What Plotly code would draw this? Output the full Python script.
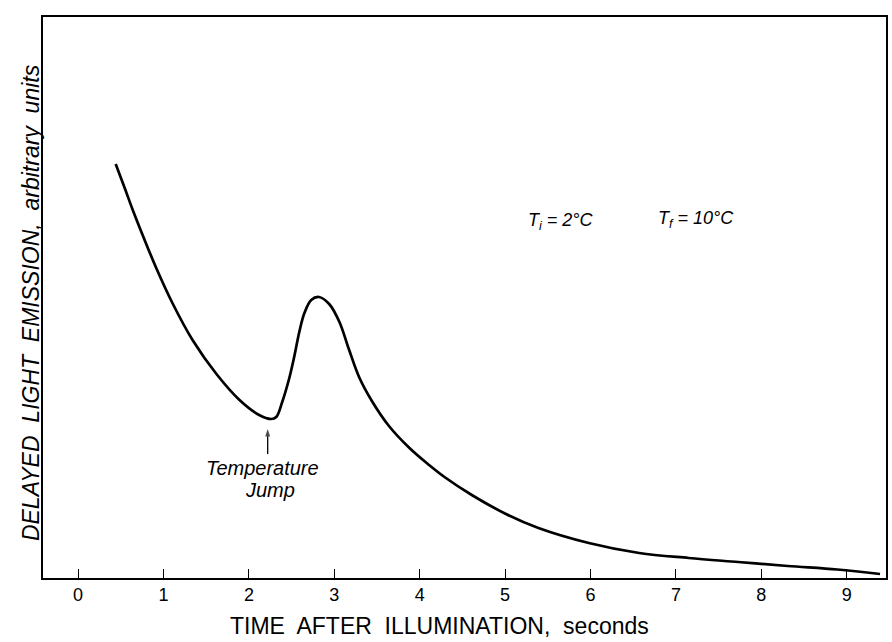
import plotly.graph_objects as go

# Data (time in seconds, emission in arbitrary units)
time_s = [0.44, 0.55, 0.64, 0.76, 0.92, 1.11, 1.34, 1.62, 1.89, 2.12, 2.26, 2.32,
          2.39, 2.47, 2.53, 2.59, 2.65, 2.73, 2.82, 2.94, 3.06, 3.17, 3.29, 3.44,
          3.64, 3.88, 4.11, 4.29, 4.61, 5.01, 5.39, 5.98, 6.57, 7.15, 7.73, 8.31,
          8.89, 9.39]
emission = [414, 389, 368, 342, 309, 274, 238, 204, 178, 163, 159, 161,
            176, 199, 221, 246, 265, 278, 281, 274, 256, 229, 201, 177,
            152, 130, 113, 101, 83, 64, 50, 35, 25, 20, 16, 12,
            8.5, 4]
tick_vals = [0, 1, 2, 3, 4, 5, 6, 7, 8, 9]
tick_text = ["0", "1", "2", "3", "4", "5", "6", "7", "8", "9"]

# "Temperature Jump" marker (time, arrow tail / head heights)
jump_time = [2.22, 2.22]
jump_arrow = [124, 149]

FONT = "Liberation Sans, Arial, sans-serif"

fig = go.Figure()
fig.add_trace(go.Scatter(
    x=time_s, y=emission, mode="lines",
    line=dict(color="black", width=2.7, shape="spline", smoothing=1.0),
    hoverinfo="skip", showlegend=False,
))
fig.add_trace(go.Scatter(
    x=jump_time, y=jump_arrow, mode="lines+markers",
    line=dict(color="black", width=1.3),
    marker=dict(symbol=["line-ew", "arrow"], angleref="previous",
                size=[0.1, 8], color="black",
                line=dict(width=0, color="black")),
    hoverinfo="skip", showlegend=False,
))

annotations = [
    dict(x=2.16, y=110, xref="x", yref="y", text="<i>Temperature</i>",
         showarrow=False, font=dict(family=FONT, size=20, color="black")),
    dict(x=2.25, y=88, xref="x", yref="y", text="<i>Jump</i>",
         showarrow=False, font=dict(family=FONT, size=20, color="black")),
    dict(x=5.65, y=357, xref="x", yref="y",
         text="<i>T<sub>i</sub> = 2°C</i>",
         showarrow=False, font=dict(family=FONT, size=18, color="black")),
    dict(x=7.24, y=359, xref="x", yref="y",
         text="<i>T<sub>f</sub> = 10°C</i>",
         showarrow=False, font=dict(family=FONT, size=18, color="black")),
    # axis titles
    dict(x=0.470, y=-0.085, xref="paper", yref="paper",
         text="TIME  AFTER  ILLUMINATION,  seconds",
         showarrow=False, xanchor="center", yanchor="middle",
         font=dict(family=FONT, size=23, color="black")),
    dict(x=0, y=0.49, xref="paper", yref="paper", xshift=-12,
         text="<i>DELAYED  LIGHT  EMISSION,  arbitrary  units</i>",
         textangle=-90, showarrow=False, xanchor="center", yanchor="middle",
         font=dict(family=FONT, size=23, color="black")),
]

fig.update_layout(
    width=892, height=642,
    margin=dict(l=43, r=4, t=17, b=64),
    paper_bgcolor="white", plot_bgcolor="white",
    annotations=annotations,
    xaxis=dict(
        range=[-0.411, 9.46], tickvals=tick_vals, ticktext=tick_text,
        ticks="inside", ticklen=9, tickwidth=1.4, tickcolor="black",
        showline=True, linecolor="black", linewidth=1.5, mirror=True,
        showgrid=False, zeroline=False,
        tickfont=dict(family=FONT, size=18, color="black"),
    ),
    yaxis=dict(
        range=[0, 561], showticklabels=False, ticks="",
        showline=True, linecolor="black", linewidth=1.5, mirror=True,
        showgrid=False, zeroline=False,
    ),
)

fig.write_html("out.html")
